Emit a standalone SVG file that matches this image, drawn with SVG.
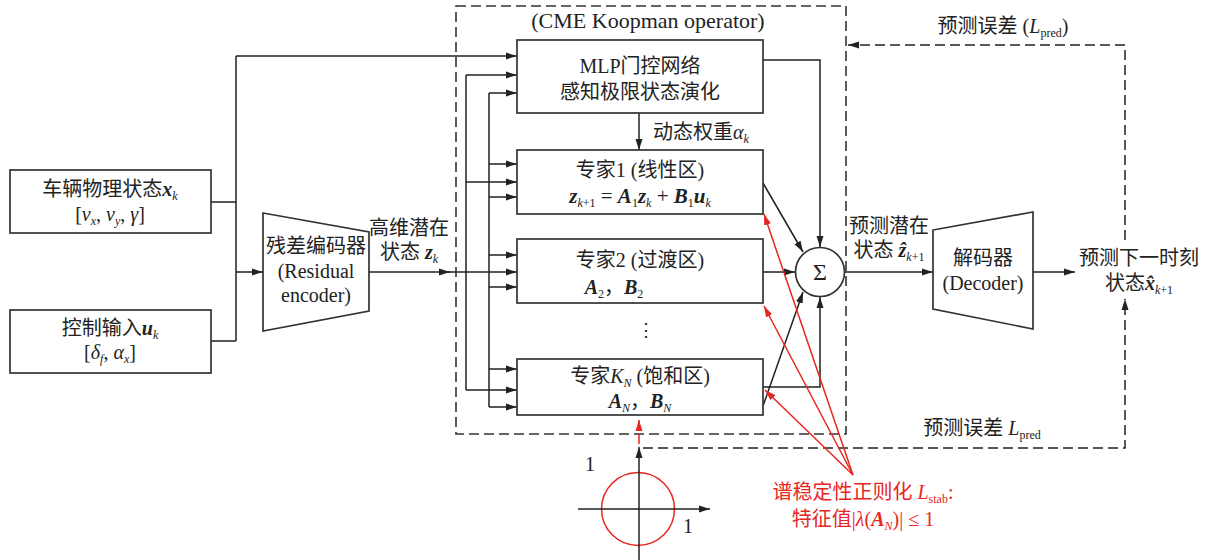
<svg xmlns="http://www.w3.org/2000/svg" width="1207" height="560" viewBox="0 0 1207 560">
<style>
.t{font-family:"Liberation Serif","Noto Sans CJK SC",serif;font-size:20px;fill:#222;text-anchor:middle}
.s{text-anchor:start}
.r{fill:#e8261f}
.b{font-weight:bold;font-style:italic}
.i{font-style:italic}
.box{fill:#fff;stroke:#333;stroke-width:1.7}
.ln{fill:none;stroke:#222;stroke-width:1.5}
.dash{stroke-dasharray:10 5}
.red{stroke:#e8261f}
</style>
<defs>
<marker id="a" markerUnits="userSpaceOnUse" markerWidth="12" markerHeight="8" refX="11" refY="4" orient="auto"><path d="M0,0.5 L11,4 L0,7.5 z" fill="#222"/></marker>
<marker id="ar" markerUnits="userSpaceOnUse" markerWidth="12" markerHeight="8" refX="11" refY="4" orient="auto"><path d="M0,0.5 L11,4 L0,7.5 z" fill="#e8261f"/></marker>
</defs>

<g id="cme-border"><rect x="456" y="6" width="390" height="428" fill="none" stroke="#333" stroke-width="1.6" class="dash"/>
<text class="t" x="648" y="28" style="font-size:22px">(CME Koopman operator)</text></g>

<g id="connectors">
<path class="ln" d="M211,202 H236 M211,341 H236 M236,341 V56"/>
<path class="ln" d="M236,56 H517" marker-end="url(#a)"/>
<path class="ln" d="M236,272 H263" marker-end="url(#a)"/>
<path class="ln" d="M369,272 H450" marker-end="url(#a)"/>
<path class="ln" d="M448,272 H517" marker-end="url(#a)"/>
<path class="ln" d="M466,75 V390 M489,93 V407"/>
<path class="ln" d="M466,75 H517" marker-end="url(#a)"/>
<path class="ln" d="M466,182 H517" marker-end="url(#a)"/>
<path class="ln" d="M466,390 H517" marker-end="url(#a)"/>
<path class="ln" d="M489,93 H517" marker-end="url(#a)"/>
<path class="ln" d="M489,164 H517" marker-end="url(#a)"/>
<path class="ln" d="M489,197 H517" marker-end="url(#a)"/>
<path class="ln" d="M489,255 H517" marker-end="url(#a)"/>
<path class="ln" d="M489,287 H517" marker-end="url(#a)"/>
<path class="ln" d="M489,369 H517" marker-end="url(#a)"/>
<path class="ln" d="M489,407 H517" marker-end="url(#a)"/>
<path class="ln" d="M639,113 V150" marker-end="url(#a)"/>
<path class="ln" d="M763,60 H820 V247" marker-end="url(#a)"/>
<path class="ln" d="M763,183 L803,252" marker-end="url(#a)"/>
<path class="ln" d="M763,272 H795" marker-end="url(#a)"/>
<path class="ln" d="M763,406 L803,292" marker-end="url(#a)"/>
<path class="ln" d="M763,387 H820 V297" marker-end="url(#a)"/>
<path class="ln" d="M845,272 H933" marker-end="url(#a)"/>
<path class="ln" d="M1033,272 H1075" marker-end="url(#a)"/>
<path class="ln dash" d="M1125,240 V45 H848" marker-end="url(#a)"/>
<path class="ln dash" d="M643,448 H1125 V299" marker-end="url(#a)"/>
<path class="ln red" d="M853,475 L764,214" marker-end="url(#ar)"/>
<path class="ln red" d="M853,475 L764,306" marker-end="url(#ar)"/>
<path class="ln red" d="M853,475 L765,390" marker-end="url(#ar)"/>
<path class="ln red dash" d="M639,444 V420" stroke-dasharray="6 4" marker-end="url(#ar)"/>
</g>

<g id="input-state"><rect class="box" x="10" y="170" width="201" height="63"/>
<text class="t" x="110" y="196">车辆物理状态<tspan class="b">x</tspan><tspan font-size="12" dy="4" class="i">k</tspan></text>
<text class="t" x="110" y="221">[<tspan class="i">v</tspan><tspan font-size="12" dy="4" class="i">x</tspan><tspan dy="-4">, </tspan><tspan class="i">v</tspan><tspan font-size="12" dy="4" class="i">y</tspan><tspan dy="-4">, </tspan><tspan class="i">γ</tspan>]</text></g>

<g id="input-control"><rect class="box" x="10" y="310" width="201" height="63"/>
<text class="t" x="110" y="335">控制输入<tspan class="b">u</tspan><tspan font-size="12" dy="4" class="i">k</tspan></text>
<text class="t" x="110" y="359">[<tspan class="i">δ</tspan><tspan font-size="12" dy="4" class="i">f</tspan><tspan dy="-4">, </tspan><tspan class="i">α</tspan><tspan font-size="12" dy="4" class="i">x</tspan><tspan dy="-4">]</tspan></text></g>

<g id="encoder"><polygon class="box" points="263,213 369,232 369,311 263,331"/>
<text class="t" x="316" y="253">残差编码器</text>
<text class="t" x="316" y="278">(Residual</text>
<text class="t" x="316" y="302">encoder)</text></g>
<g id="zk-label"><text class="t" x="409" y="235">高维潜在</text>
<text class="t" x="409" y="259">状态 <tspan class="b">z</tspan><tspan font-size="12" dy="4" class="i">k</tspan></text></g>

<g id="mlp-gate"><rect class="box" x="517" y="40" width="246" height="73"/>
<text class="t" x="640" y="73">MLP门控网络</text>
<text class="t" x="640" y="99">感知极限状态演化</text></g>
<g id="weight-label"><text class="t s" x="653" y="139">动态权重<tspan class="i">α</tspan><tspan font-size="12" dy="4" class="i">k</tspan></text></g>

<g id="expert1"><rect class="box" x="517" y="150" width="246" height="64"/>
<text class="t" x="640" y="177">专家1 (线性区)</text>
<text class="t" x="640" y="203" style="font-size:21px"><tspan class="b">z</tspan><tspan font-size="12" dy="4" class="i">k</tspan><tspan font-size="12">+1</tspan><tspan dy="-4"> = </tspan><tspan class="b">A</tspan><tspan font-size="12" dy="4">1</tspan><tspan dy="-4" class="b">z</tspan><tspan font-size="12" dy="4" class="i">k</tspan><tspan dy="-4"> + </tspan><tspan class="b">B</tspan><tspan font-size="12" dy="4">1</tspan><tspan dy="-4" class="b">u</tspan><tspan font-size="12" dy="4" class="i">k</tspan></text></g>

<g id="expert2"><rect class="box" x="517" y="239" width="246" height="64"/>
<text class="t" x="640" y="267">专家2 (过渡区)</text>
<text class="t" x="614" y="294"><tspan class="b">A</tspan><tspan font-size="12" dy="4">2</tspan><tspan dy="-4">，</tspan><tspan class="b">B</tspan><tspan font-size="12" dy="4">2</tspan></text></g>

<g id="dots"><text class="t" x="646" y="336" style="font-size:18px">⋮</text></g>

<g id="expertN"><rect class="box" x="517" y="359" width="246" height="56"/>
<text class="t" x="640" y="383">专家<tspan class="i">K</tspan><tspan font-size="12" dy="4" class="i">N</tspan><tspan dy="-4"> (饱和区)</tspan></text>
<text class="t" x="640" y="408"><tspan class="b">A</tspan><tspan font-size="12" dy="4" class="i">N</tspan><tspan dy="-4">，</tspan><tspan class="b">B</tspan><tspan font-size="12" dy="4" class="i">N</tspan></text></g>

<g id="sum"><circle cx="820" cy="272" r="24.5" fill="#fff" stroke="#333" stroke-width="1.7"/>
<text class="t" x="820" y="280" style="font-size:24px">Σ</text></g>

<g id="zhat-label"><text class="t" x="889" y="233">预测潜在</text>
<text class="t" x="889" y="257">状态 <tspan class="b">ẑ</tspan><tspan font-size="12" dy="4" class="i">k</tspan><tspan font-size="12">+1</tspan></text></g>

<g id="decoder"><polygon class="box" points="933,230 1033,212 1033,329 933,309"/>
<text class="t" x="983" y="265">解码器</text>
<text class="t" x="983" y="290">(Decoder)</text></g>

<g id="output"><text class="t" x="1139" y="265">预测下一时刻</text>
<text class="t" x="1139" y="290">状态<tspan class="b">x̂</tspan><tspan font-size="12" dy="4" class="i">k</tspan><tspan font-size="12">+1</tspan></text></g>

<g id="loss-top"><text class="t" x="1003" y="33">预测误差 (<tspan class="i">L</tspan><tspan font-size="12" dy="4">pred</tspan><tspan dy="-4">)</tspan></text></g>
<g id="loss-bottom"><text class="t" x="982" y="435">预测误差 <tspan class="i">L</tspan><tspan font-size="12" dy="4">pred</tspan></text></g>

<g id="unit-circle">
<circle cx="638" cy="509" r="36.5" fill="none" stroke="#e8261f" stroke-width="1.5"/>
<path class="ln" d="M578,509 H710" marker-end="url(#a)"/>
<path class="ln" d="M639,560 V447" marker-end="url(#a)"/>
<text class="t" x="590" y="471">1</text>
<text class="t" x="688" y="533">1</text>
</g>

<g id="stab-label"><text class="t r" x="863" y="499">谱稳定性正则化 <tspan class="i">L</tspan><tspan font-size="12" dy="4">stab</tspan><tspan dy="-4">:</tspan></text>
<text class="t r" x="863" y="526">特征值|<tspan class="i">λ</tspan>(<tspan class="b">A</tspan><tspan font-size="12" dy="4" class="i">N</tspan><tspan dy="-4">)| ≤ 1</tspan></text></g>
</svg>
